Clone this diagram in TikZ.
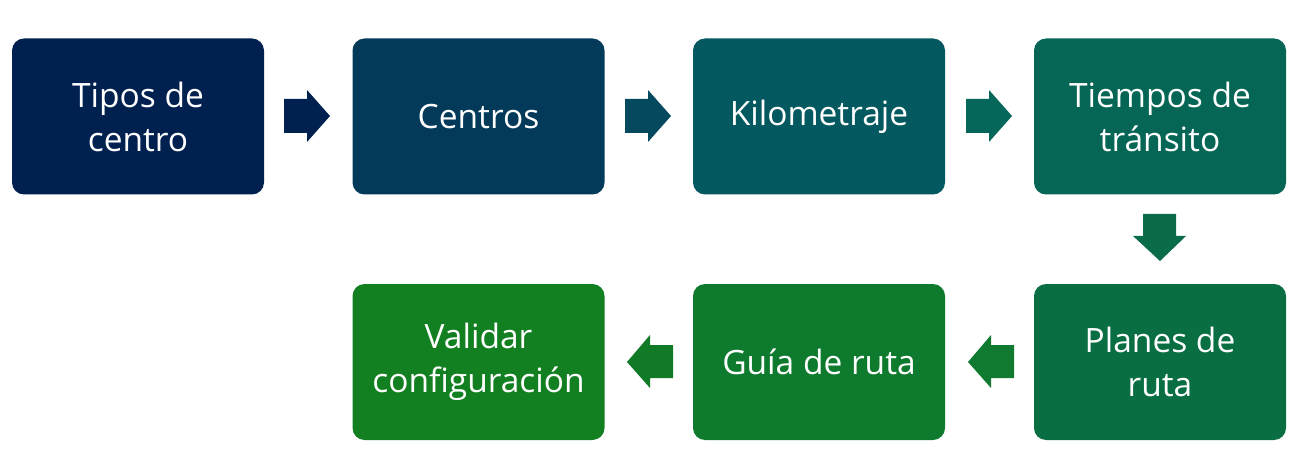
\documentclass[tikz,border=0pt]{standalone}
\usepackage{fontspec}
\setmainfont{Open Sans}
\definecolor{c1}{HTML}{002050}
\definecolor{c2}{HTML}{033A5A}
\definecolor{c3}{HTML}{04585F}
\definecolor{c4}{HTML}{056656}
\definecolor{c5}{HTML}{096E42}
\definecolor{c6}{HTML}{0E7A2D}
\definecolor{c7}{HTML}{128021}
\definecolor{a2}{HTML}{04495D}
\definecolor{a3}{HTML}{05665A}
\definecolor{a4}{HTML}{0A6C48}
\definecolor{a5}{HTML}{117A27}
\definecolor{a6}{HTML}{0F7A30}
\tikzset{
  x=1pt,y=-1pt,
  box/.style={rounded corners=12pt,minimum width=252pt,minimum height=156pt,inner sep=0pt,
    text=white,align=center,font=\fontsize{33.5}{44}\selectfont},
}
\begin{document}
\begin{tikzpicture}
\useasboundingbox (0,0) rectangle (1301,465);
\node[box,fill=c1] (b1) at (138,116.5) {Tipos de\\centro};
\node[box,fill=c2] (b2) at (478.5,116.5) {Centros};
\node[box,fill=c3] (b3) at (819,116.5) {Kilometraje};
\node[box,fill=c4] (b4) at (1160,116.5) {Tiempos de\\tránsito};
\node[box,fill=c5] (b5) at (1160,362) {Planes de\\ruta};
\node[box,fill=c6] (b6) at (819,362) {Guía de ruta};
\node[box,fill=c7] (b7) at (478.5,362) {Validar\\configuración};
\path[fill=c1] (284,99) -- (307,99) -- (307,90) -- (330,116) -- (307,142) -- (307,133) -- (284,133) -- cycle;
\path[fill=a2] (625,99) -- (648,99) -- (648,90) -- (671,116) -- (648,142) -- (648,133) -- (625,133) -- cycle;
\path[fill=a3] (966,99) -- (989,99) -- (989,90) -- (1012,116) -- (989,142) -- (989,133) -- (966,133) -- cycle;
\path[fill=a4] (1143,214) -- (1176,214) -- (1176,236) -- (1186,236) -- (1160,261) -- (1133,236) -- (1143,236) -- cycle;
\path[fill=a6] (1014,345) -- (991,345) -- (991,335) -- (968,362) -- (991,388) -- (991,378) -- (1014,378) -- cycle;
\path[fill=a5] (673,345) -- (650,345) -- (650,335) -- (627,362) -- (650,388) -- (650,378) -- (673,378) -- cycle;
\end{tikzpicture}
\end{document}
